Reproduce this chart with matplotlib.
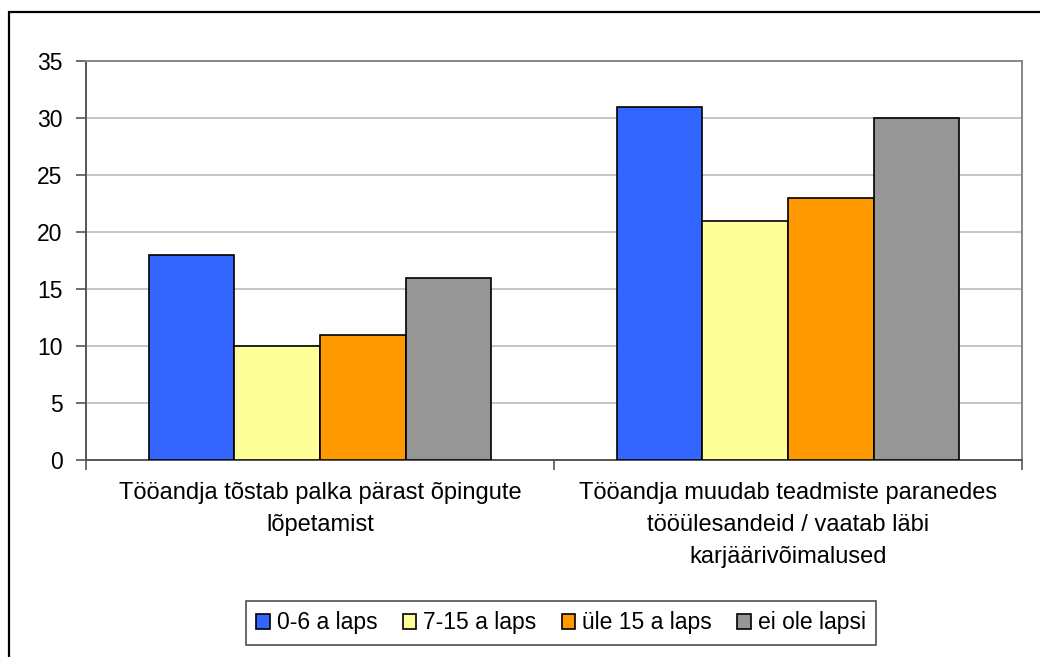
import matplotlib
matplotlib.use("Agg")
import matplotlib.pyplot as plt
from matplotlib.patches import Rectangle
import numpy as np

plt.rcParams['font.family'] = ['Liberation Sans', 'DejaVu Sans']

# data
categories = ["Tööandja tõstab palka pärast õpingute\nlõpetamist",
              "Tööandja muudab teadmiste paranedes\ntööülesandeid / vaatab läbi\nkarjäärivõimalused"]
series = ["0-6 a laps", "7-15 a laps", "üle 15 a laps", "ei ole lapsi"]
values = [[18, 31],
          [10, 21],
          [11, 23],
          [16, 30]]
colors = ["#3366FF", "#FFFF99", "#FF9900", "#969696"]
yticks = [0, 5, 10, 15, 20, 25, 30, 35]

fig = plt.figure(figsize=(10.4, 6.57), dpi=100)
ax = fig.add_axes([86/1040, 1 - 460/657, (1022-86)/1040, (460-61)/657])

# outer chart border
fig.patches.append(Rectangle((8.5/1040, -0.1), 1.2, 1 - 12/657 + 0.1,
                             transform=fig.transFigure, fill=False,
                             edgecolor='black', linewidth=1.6, zorder=0))

x = np.arange(len(categories))
w = 0.1827
for i, (name, vals) in enumerate(zip(series, values)):
    ax.bar(x + (i - 1.5) * w, vals, w, color=colors[i], edgecolor='black',
           linewidth=1.2, label=name, zorder=3)

ax.set_xlim(-0.5, 1.5)
ax.set_ylim(0, 35)
ax.set_yticks(yticks)
ax.tick_params(axis='y', labelsize=16.5, length=7, width=1.2, color='#555555', pad=10)
ax.yaxis.grid(True, color='#BBBBBB', linewidth=1.2, zorder=0)
ax.set_axisbelow(True)

ax.set_xticks([-0.5, 0.5, 1.5])
ax.set_xticklabels([])
ax.tick_params(axis='x', length=7, width=1.2, color='#555555')

for sp in ['top', 'right']:
    ax.spines[sp].set_color('#888888')
    ax.spines[sp].set_linewidth(1.4)
for sp in ['left', 'bottom']:
    ax.spines[sp].set_color('#555555')
    ax.spines[sp].set_linewidth(1.4)

for xi, lab in zip(x, categories):
    ax.text(xi, -1.9, lab, ha='center', va='top', fontsize=17,
            linespacing=1.6, transform=ax.transData)

leg = fig.legend(loc='center', bbox_to_anchor=(561/1040, 1 - 623/657), ncol=4,
                 fontsize=16.5, frameon=True, fancybox=False, edgecolor='#222222',
                 handlelength=0.6, handleheight=0.6, handletextpad=0.3,
                 columnspacing=1.1, borderpad=0.45, borderaxespad=0)
leg.get_frame().set_linewidth(1.2)

fig.savefig("out.png", dpi=100)
